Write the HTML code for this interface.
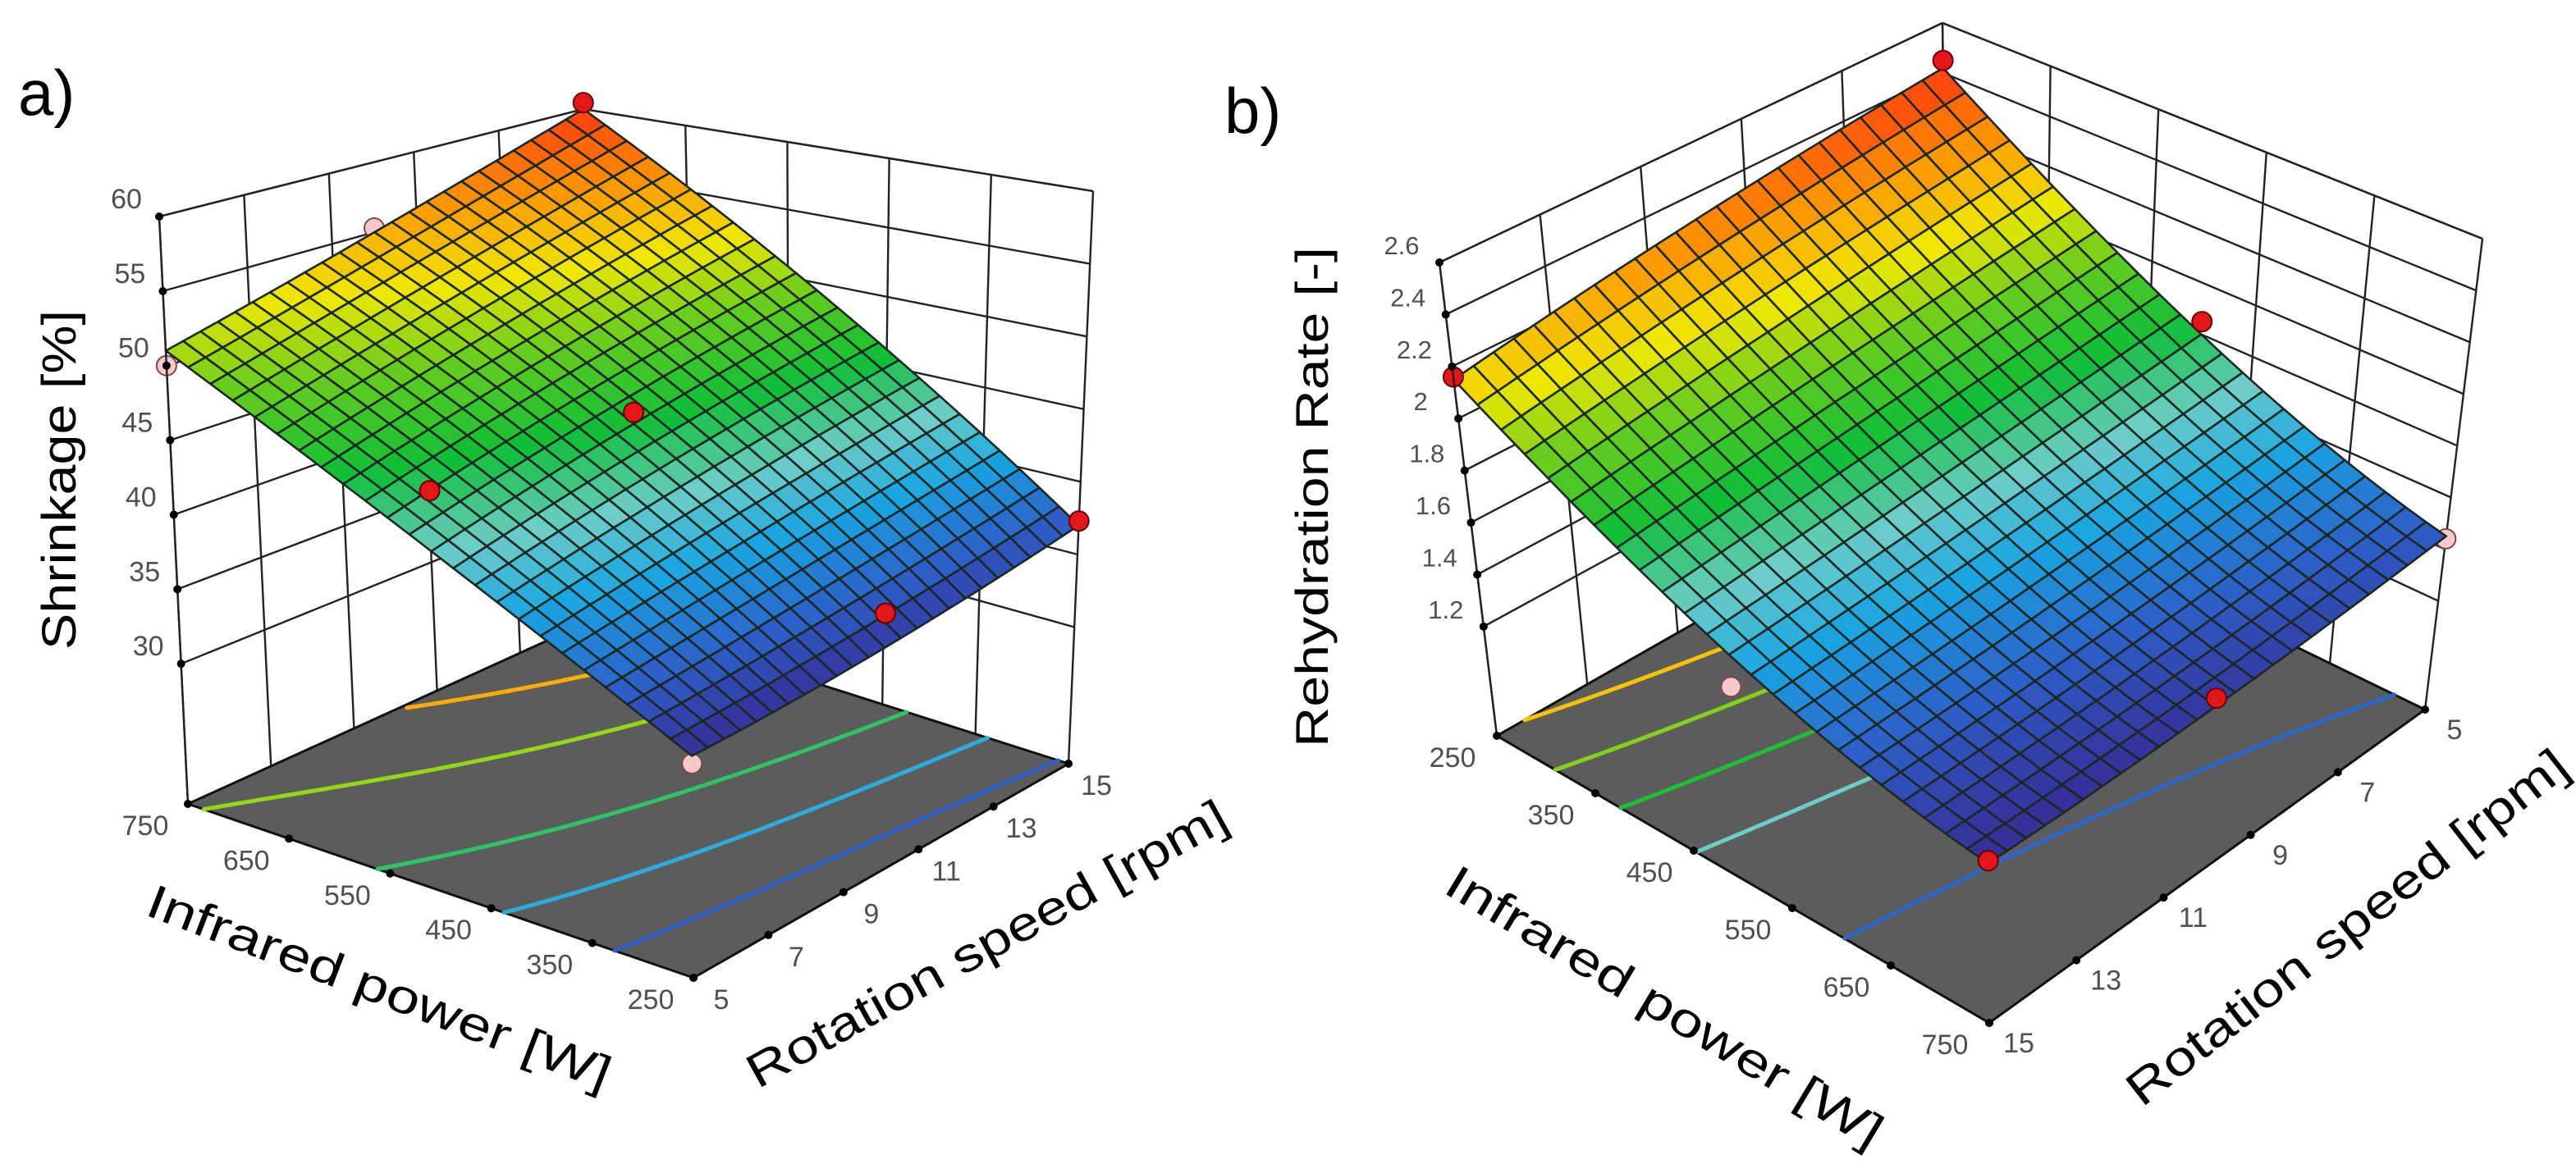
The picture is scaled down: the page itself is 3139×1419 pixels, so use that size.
<!DOCTYPE html>
<html><head><meta charset="utf-8"><title>Response surfaces</title>
<style>html,body{margin:0;padding:0;background:#fff;}svg{display:block;}</style></head>
<body>
<svg id="fig" xmlns="http://www.w3.org/2000/svg" width="3139" height="1419" viewBox="0 0 3139 1419">
<rect x="0" y="0" width="3139" height="1419" fill="#fff"/>
<g id="pa"></g>
<g id="pb"></g>
<text x="22" y="140" font-family="Liberation Sans, sans-serif" font-size="78" fill="#000">a)</text>
<text x="1492" y="162" font-family="Liberation Sans, sans-serif" font-size="78" fill="#000">b)</text>
<text transform="translate(92,585) rotate(-90)" text-anchor="middle" font-family="Liberation Sans, sans-serif" font-size="58" textLength="414" lengthAdjust="spacingAndGlyphs" fill="#000">Shrinkage [%]</text>
<text transform="translate(455,1222) rotate(21)" text-anchor="middle" font-family="Liberation Sans, sans-serif" font-size="58" textLength="600" lengthAdjust="spacingAndGlyphs" fill="#000">Infrared power [W]</text>
<text transform="translate(1212,1168) rotate(-29)" text-anchor="middle" font-family="Liberation Sans, sans-serif" font-size="58" textLength="660" lengthAdjust="spacingAndGlyphs" fill="#000">Rotation speed [rpm]</text>
<text transform="translate(1618,606) rotate(-90)" text-anchor="middle" font-family="Liberation Sans, sans-serif" font-size="56" textLength="610" lengthAdjust="spacingAndGlyphs" fill="#000">Rehydration Rate [-]</text>
<text transform="translate(2018,1244) rotate(31)" text-anchor="middle" font-family="Liberation Sans, sans-serif" font-size="58" textLength="610" lengthAdjust="spacingAndGlyphs" fill="#000">Infrared power [W]</text>
<text transform="translate(2872,1146) rotate(-38)" text-anchor="middle" font-family="Liberation Sans, sans-serif" font-size="58" textLength="665" lengthAdjust="spacingAndGlyphs" fill="#000">Rotation speed [rpm]</text>
</svg>
<script>
// ---- data ----
const ipLevels = [250, 500, 750];
const rsLevels = [5, 10, 15];
const ipTicks = [250, 350, 450, 550, 650, 750];
const rsTicks = [5, 7, 9, 11, 13, 15];
// rows = infrared power level, cols = rotation speed level
const shrinkageGrid = [[35, 35.5, 37], [43, 46, 48.5], [51, 55, 60]];
const rehydrationGrid = [[2.42, 2.3, 2.15], [1.8, 1.7, 1.62], [1.45, 1.38, 1.36]];
const shrinkageTicks = [30, 35, 40, 45, 50, 55, 60];
const shrinkageTickLabels = ['30', '35', '40', '45', '50', '55', '60'];
const rehydrationTicks = [1.2, 1.4, 1.6, 1.8, 2.0, 2.2, 2.4, 2.6];
const rehydrationTickLabels = ['1.2', '1.4', '1.6', '1.8', '2', '2.2', '2.4', '2.6'];
const shrinkageContours = [37.5, 41, 45, 50.5, 55];
const rehydrationContours = [1.48, 1.7, 1.85, 2.0, 2.17];
const shrinkPtIP = [750, 750, 750, 500, 500, 250, 250, 250];
const shrinkPtRS = [15, 5, 10, 5, 10, 10, 15, 5];
const shrinkPtZ = [60.5, 50, 55.3, 47, 46.8, 37.8, 37.3, 34.5];
const shrinkPtAbove = [1, 0, 0, 1, 1, 1, 1, 0];
const rehydPtIP = [250, 250, 500, 750, 750, 750, 500];
const rehydPtRS = [5, 15, 5, 5, 10, 15, 15];
const rehydPtZ = [2.45, 2.16, 1.85, 1.44, 1.41, 1.37, 1.5];
const rehydPtAbove = [1, 1, 1, 0, 1, 1, 0];

const NS = 'http://www.w3.org/2000/svg';
const stops = [[0,[55,45,150]],[0.1,[45,95,200]],[0.22,[25,165,225]],[0.32,[110,205,200]],[0.44,[15,190,55]],[0.58,[105,205,30]],[0.7,[240,232,0]],[0.84,[255,150,0]],[1,[255,55,15]]];
function cmap(t){t=Math.max(0,Math.min(1,t));for(let i=1;i<stops.length;i++){if(t<=stops[i][0]){const a=stops[i-1],b=stops[i];const k=(t-a[0])/(b[0]-a[0]);const c=a[1].map((x,j)=>Math.round(x+(b[1][j]-x)*k));return 'rgb('+c.join(',')+')';}}return 'rgb(255,55,15)';}
function L(t){return [2*(t-0.5)*(t-1), -4*t*(t-1), 2*t*(t-0.5)];}
function mk(tag, attrs, parent){const e=document.createElementNS(NS,tag);for(const k in attrs)e.setAttribute(k,attrs[k]);parent.appendChild(e);return e;}

function drawPanel(g, cfg){
  const C = cfg.corners;
  const uOf = ip => (ip - ipLevels[0])/(ipLevels[2]-ipLevels[0]);
  const vOf = rs => (rs - rsLevels[0])/(rsLevels[2]-rsLevels[0]);
  const wOf = z => (z - cfg.zmin)/(cfg.zmax - cfg.zmin);
  function proj(u,v,w){
    const b=(k)=>{const p00=C['00'][k],p10=C['10'][k],p01=C['01'][k],p11=C['11'][k];
      return [p00[0]*(1-u)*(1-v)+p10[0]*u*(1-v)+p01[0]*(1-u)*v+p11[0]*u*v, p00[1]*(1-u)*(1-v)+p10[1]*u*(1-v)+p01[1]*(1-u)*v+p11[1]*u*v];};
    const f=b(0), t=b(1);
    return [f[0]+(t[0]-f[0])*w, f[1]+(t[1]-f[1])*w];
  }
  function fz(u,v){const a=L(u),b=L(v);let s=0;for(let i=0;i<3;i++)for(let j=0;j<3;j++)s+=a[i]*b[j]*cfg.grid[i][j];return s;}
  const P=p=>p[0].toFixed(1)+','+p[1].toFixed(1);
  const lineStyle={stroke:'#222','stroke-width':2.4,fill:'none'};
  const wallG=mk('g',{},g);
  
  
  const wu=cfg.wallU, wv=cfg.wallV;
  const zw=cfg.zTicks.map(wOf).concat([0,1]);
  zw.forEach(w=>{
    let l1=mk('line',Object.assign({},lineStyle),wallG);const a=proj(wu,0,w),b=proj(wu,1,w);
    l1.setAttribute('x1',a[0]);l1.setAttribute('y1',a[1]);l1.setAttribute('x2',b[0]);l1.setAttribute('y2',b[1]);
    
    
    let l2=mk('line',Object.assign({},lineStyle),wallG);const c=proj(0,wv,w),d=proj(1,wv,w);
    l2.setAttribute('x1',c[0]);l2.setAttribute('y1',c[1]);l2.setAttribute('x2',d[0]);l2.setAttribute('y2',d[1]);
    
    
  });
  rsTicks.forEach(rs=>{const v=vOf(rs);const a=proj(wu,v,0),b=proj(wu,v,1);
    const l=mk('line',Object.assign({x1:a[0],y1:a[1],x2:b[0],y2:b[1]},lineStyle),wallG);
    
    });
  ipTicks.forEach(ip=>{const u=uOf(ip);const a=proj(u,wv,0),b=proj(u,wv,1);
    const l=mk('line',Object.assign({x1:a[0],y1:a[1],x2:b[0],y2:b[1]},lineStyle),wallG);
    
    });
  const fl=mk('polygon',{points:[proj(0,0,0),proj(1,0,0),proj(1,1,0),proj(0,1,0)].map(P).join(' '),fill:'#5c5c5c',stroke:'#111','stroke-width':3},g);
  
  
  let smin=Infinity,smax=-Infinity;cfg.grid.forEach(r=>r.forEach(x=>{smin=Math.min(smin,x);smax=Math.max(smax,x);}));
  const M=60;
  cfg.contours.forEach(lev=>{
    let d='';
    for(let i=0;i<M;i++)for(let j=0;j<M;j++){
      const u0=i/M,u1=(i+1)/M,v0=j/M,v1=(j+1)/M;
      const q=[[u0,v0,fz(u0,v0)],[u1,v0,fz(u1,v0)],[u1,v1,fz(u1,v1)],[u0,v1,fz(u0,v1)]];
      const pts=[];
      for(let k=0;k<4;k++){const a=q[k],b=q[(k+1)%4];if((a[2]-lev)*(b[2]-lev)<0){const t=(lev-a[2])/(b[2]-a[2]);pts.push(proj(a[0]+(b[0]-a[0])*t,a[1]+(b[1]-a[1])*t,0));}}
      if(pts.length>=2)d+='M'+P(pts[0])+'L'+P(pts[1]);
      if(pts.length===4)d+='M'+P(pts[2])+'L'+P(pts[3]);
    }
    const c=mk('path',{d:d,stroke:cmap((lev-smin)/(smax-smin)),'stroke-width':5,fill:'none','stroke-linecap':'round'},g);
    
    
  });
  function drawPts(above){
    cfg.ptIP.forEach((ip,k)=>{ if(!!cfg.ptAbove[k]!==above)return;
      const p=proj(uOf(ip),vOf(cfg.ptRS[k]),wOf(cfg.ptZ[k]));
      const c=mk('circle',{cx:p[0],cy:p[1],r:12,fill:above?'#e3161a':'#f7c9cb',stroke:above?'#6a0000':'#7a4a4a','stroke-width':2},g);
      
      
    });
  }
  drawPts(false);
  const N=24;const cells=[];
  const nu=cfg.near[0],nv=cfg.near[1];
  for(let i=0;i<N;i++)for(let j=0;j<N;j++){
    const u0=i/N,u1=(i+1)/N,v0=j/N,v1=(j+1)/N;
    const z=[fz(u0,v0),fz(u1,v0),fz(u1,v1),fz(u0,v1)];
    const uc=(u0+u1)/2,vc=(v0+v1)/2;
    cells.push({d:Math.abs(uc-nu)+Math.abs(vc-nv),pts:[proj(u0,v0,wOf(z[0])),proj(u1,v0,wOf(z[1])),proj(u1,v1,wOf(z[2])),proj(u0,v1,wOf(z[3]))],z:(z[0]+z[1]+z[2]+z[3])/4});
  }
  cells.sort((a,b)=>b.d-a.d);
  const sg=mk('g',{},g);
  
  
  cells.forEach(c=>{const p=mk('polygon',{points:c.pts.map(P).join(' '),fill:cmap((c.z-smin)/(smax-smin)),stroke:'#1a2822','stroke-width':2.6,'stroke-linejoin':'round'},sg);
    
    });
  drawPts(true);
  const lab={'font-family':'Liberation Sans, sans-serif',fill:'#505050','text-anchor':'middle'};
  const za=cfg.zAxis;
  const ax=mk('line',Object.assign({x1:proj(za[0],za[1],0)[0],y1:proj(za[0],za[1],0)[1],x2:proj(za[0],za[1],1)[0],y2:proj(za[0],za[1],1)[1]},lineStyle),g);
  
  
  cfg.zTicks.forEach((zt,k)=>{const p=proj(za[0],za[1],wOf(zt));
    const d=mk('circle',{cx:p[0],cy:p[1],r:5,fill:'#000'},g);
    
    
    const t=mk('text',Object.assign({x:p[0]+cfg.zOff[0],y:p[1]+cfg.zOff[1],'font-size':cfg.zFont},lab),g);t.textContent=cfg.zLabels[k];
    
    });
  ipTicks.forEach(ip=>{const p=proj(uOf(ip),cfg.ipEdgeV,0);
    const d=mk('circle',{cx:p[0],cy:p[1],r:5,fill:'#000'},g);
    
    
    const t=mk('text',Object.assign({x:p[0]+cfg.ipOff[0],y:p[1]+cfg.ipOff[1],'font-size':34},lab),g);t.textContent=String(ip);
    
    });
  rsTicks.forEach(rs=>{const p=proj(cfg.rsEdgeU,vOf(rs),0);
    const d=mk('circle',{cx:p[0],cy:p[1],r:5,fill:'#000'},g);
    
    
    const t=mk('text',Object.assign({x:p[0]+cfg.rsOff[0],y:p[1]+cfg.rsOff[1],'font-size':34},lab),g);t.textContent=String(rs);
    
    });
}

drawPanel(document.getElementById('pa'),{
  corners:{'10':[[229,980],[194,264]],'00':[[845,1192],[840,452]],'01':[[1302,931],[1332,233]],'11':[[735,750],[711,133]]},
  zmin:20.6,zmax:60,grid:shrinkageGrid,zTicks:shrinkageTicks,zLabels:shrinkageTickLabels,zFont:34,
  contours:shrinkageContours,ptIP:shrinkPtIP,ptRS:shrinkPtRS,ptZ:shrinkPtZ,ptAbove:shrinkPtAbove,
  wallU:1,wallV:1,near:[0,0],zAxis:[1,0],ipEdgeV:0,rsEdgeU:0,
  zOff:[-40,-10],ipOff:[-52,38],rsOff:[34,38]
});
drawPanel(document.getElementById('pb'),{
  corners:{'01':[[1824,897],[1754,320]],'11':[[2424,1247],[2420,637]],'10':[[2955,865],[3025,291]],'00':[[2375,583],[2367,28]]},
  zmin:0.78,zmax:2.6,grid:rehydrationGrid,zTicks:rehydrationTicks,zLabels:rehydrationTickLabels,zFont:31,
  contours:rehydrationContours,ptIP:rehydPtIP,ptRS:rehydPtRS,ptZ:rehydPtZ,ptAbove:rehydPtAbove,
  wallU:0,wallV:0,near:[1,1],zAxis:[0,1],ipEdgeV:1,rsEdgeU:1,
  zOff:[-46,-10],ipOff:[-54,38],rsOff:[36,36]
});
</script>
</body></html>
